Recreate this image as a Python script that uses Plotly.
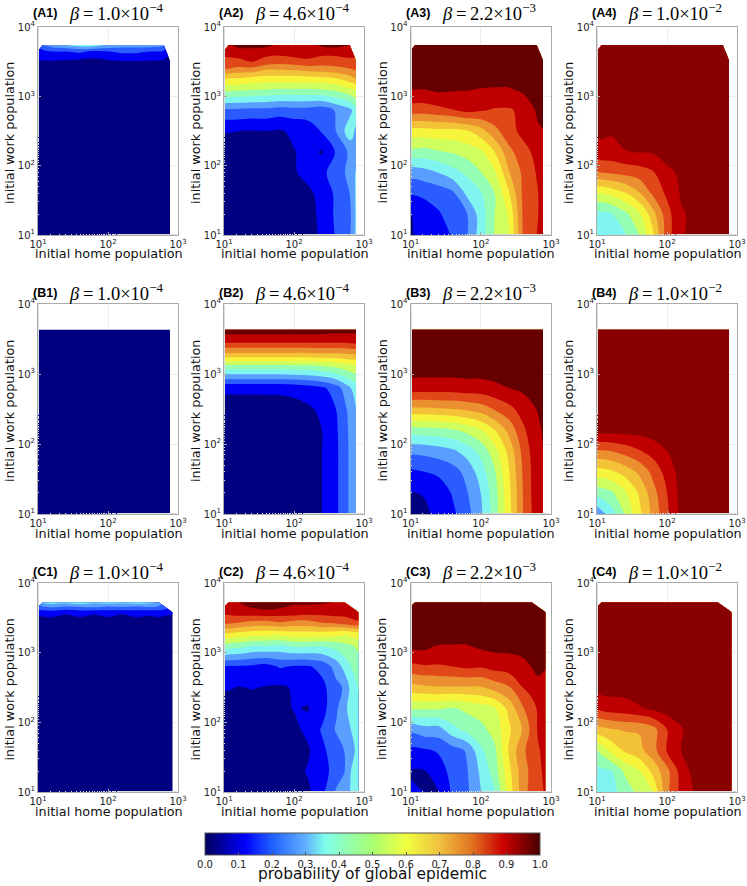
import numpy as np
import plotly.graph_objects as go

# grid positions (initial home population / initial work population)
xA = [10, 11.8, 15.8, 25, 40, 63, 100, 158, 251, 398, 622, 676, 770]
yA = [10, 20, 40, 79, 158, 316, 631, 1259, 1905, 2512, 3162, 4416, 5495]
xB = [10, 15.8, 25, 40, 63, 100, 158, 251, 398, 550, 770]
yB = [10, 20, 40, 79, 158, 316, 631, 1259, 1905, 2884, 4325]
xC = [10, 11.8, 15.8, 25, 40, 63, 100, 158, 251, 398, 518, 650, 840]
yC = [10, 20, 40, 79, 158, 316, 631, 1259, 1905, 2692, 3715, 4477, 5272]

# values, in units of one contour interval (0.08 probability); rows run bottom to top
N = None
A1 = [
 [.2,.2,.2,.2,.2,.2,.2,.2,.2,.2,.2,.2,.2],
 [.2,.2,.2,.2,.2,.2,.2,.2,.2,.2,.2,.2,.2],
 [.2,.2,.2,.2,.2,.2,.2,.2,.2,.2,.2,.2,.2],
 [.2,.2,.2,.2,.2,.2,.2,.2,.2,.2,.2,.2,.2],
 [.2,.2,.2,.2,.2,.2,.2,.2,.2,.2,.2,.2,.2],
 [.2,.2,.2,.2,.2,.2,.2,.2,.2,.2,.2,.2,.2],
 [.2,.2,.2,.2,.2,.2,.2,.2,.2,.2,.2,.2,.2],
 [.2,.2,.2,.2,.2,.2,.2,.2,.2,.2,.2,.2,.2],
 [.2,.2,.2,.2,.2,.2,.2,.2,.2,.2,.2,.2,.2],
 [.3,.3,.3,.3,.3,.3,.3,.3,.3,.3,.3,.3,.3],
 [.9,.9,.9,.8,.6,.6,.8,.9,.9,.9,.8,.7,.5],
 [1.5,1.7,2,2,2.2,1.8,2,2.2,2.2,2,1.8,1.5,N],
 [N,3,3.5,4,4.5,4.5,3.8,3.5,3.5,3.5,3.2,N,N],
]
A2 = [
 [.3,.3,.3,.3,.3,.3,.4,.6,1.2,2.1,2.9,3.2,4.2],
 [.3,.3,.3,.3,.3,.3,.4,.7,1.2,2.2,2.9,3.1,4.2],
 [.3,.3,.3,.3,.3,.3,.4,.8,1.3,2.2,3,3.3,4.2],
 [.4,.4,.4,.4,.5,.6,.9,1.3,1.7,2.6,3.2,3.6,4.1],
 [.5,.5,.5,.5,.6,.7,.95,1.3,.9,2.1,3.2,3.4,3.6],
 [1.05,1.05,1,.95,1,.9,1.2,1.4,2.1,3,4.6,4.4,3.7],
 [2.8,2.8,2.8,2.7,2.7,2.5,2.6,2.6,2.4,3.1,3.7,4,4.7],
 [6.3,6.3,6.2,6.1,6,5.9,5.9,5.9,6,6.2,6.8,6.9,7.2],
 [8.3,8.2,8.2,8,7.8,7.8,7.8,7.9,8,8.2,8.8,9,9.2],
 [10,10,9.8,9.8,9.2,9.2,9.3,9.5,9.6,9.8,10,10.1,10.2],
 [10.6,10.6,10.7,11,10.6,10.4,10.6,10.8,10.5,10.4,10.7,10.7,10.8],
 [11.5,11.5,11.6,11.7,11.4,11.4,11.5,11.5,11.4,11.5,11.5,11.5,N],
 [N,11.8,12.3,12.3,12.3,11.8,11.6,11.7,12.2,12.3,12,N,N],
]
A3 = [
 [.9,1.05,1.2,1.5,2.1,2.9,4.5,6.1,6.9,10.1,11,11.2,11.5],
 [.95,1.2,1.5,1.9,2.4,2.9,4.5,6,7.1,10.1,10.9,11.05,11.4],
 [2.1,2.1,2.2,2.4,2.8,4.2,4.9,6,7.9,10.2,10.9,11.05,11.3],
 [3.4,3.4,3.6,4,4.6,5.2,5.95,6.8,8.9,10.2,11.05,11.2,11.4],
 [5.7,5.7,5.6,5.9,6.1,6.4,6.8,8,9.7,10.6,11.3,11.4,11.5],
 [7.6,7.6,7.6,7.7,7.7,7.9,8.6,9.7,10.6,11.3,11.8,11.9,11.95],
 [10.5,10.5,10.5,10.7,10.95,11.3,11.1,10.9,10.9,11.2,12.1,12.2,12.4],
 [12,12,12,12.2,12.1,12.05,11.95,11.9,11.9,12.2,12.5,12.5,12.5],
 [12.5,12.5,12.5,12.5,12.5,12.5,12.5,12.5,12.5,12.5,12.5,12.5,12.5],
 [12.5,12.5,12.5,12.5,12.5,12.5,12.5,12.5,12.5,12.5,12.5,12.5,12.5],
 [12.5,12.5,12.5,12.5,12.5,12.5,12.5,12.5,12.5,12.5,12.5,12.5,12.5],
 [12.5,12.5,12.5,12.5,12.5,12.5,12.5,12.5,12.5,12.5,12.5,12.5,N],
 [N,12.5,12.5,12.5,12.5,12.5,12.5,12.5,12.5,12.5,12.5,N,N],
]
A4 = [
 [4.2,4.3,4.5,4.9,6,7.8,10.6,11.8,12.5,12.5,12.5,12.5,12.5],
 [4.6,4.7,4.9,5.7,6.8,8.6,10.6,11.9,12.2,12.5,12.5,12.5,12.5],
 [7,7,7.3,7.9,8.9,10.2,11.2,12.1,12.5,12.5,12.5,12.5,12.5],
 [9.9,10,10.1,10.3,10.5,10.9,11.7,12.2,12.5,12.5,12.5,12.5,12.5],
 [11.5,11.7,11.7,11.95,12.05,12.1,12.5,12.5,12.5,12.5,12.5,12.5,12.5],
 [12.3,12.2,12.1,12.4,12.5,12.5,12.5,12.5,12.5,12.5,12.5,12.5,12.5],
 [12.5,12.5,12.5,12.5,12.5,12.5,12.5,12.5,12.5,12.5,12.5,12.5,12.5],
 [12.5,12.5,12.5,12.5,12.5,12.5,12.5,12.5,12.5,12.5,12.5,12.5,12.5],
 [12.5,12.5,12.5,12.5,12.5,12.5,12.5,12.5,12.5,12.5,12.5,12.5,12.5],
 [12.5,12.5,12.5,12.5,12.5,12.5,12.5,12.5,12.5,12.5,12.5,12.5,12.5],
 [12.5,12.5,12.5,12.5,12.5,12.5,12.5,12.5,12.5,12.5,12.5,12.5,12.5],
 [12.5,12.5,12.5,12.5,12.5,12.5,12.5,12.5,12.5,12.5,12.5,12.5,N],
 [N,12.5,12.5,12.5,12.5,12.5,12.5,12.5,12.5,12.5,12.5,N,N],
]
B1 = [
 [.1,.1,.1,.1,.1,.1,.1,.1,.1,.2,.3],
 [.1,.1,.1,.1,.1,.1,.1,.1,.1,.2,.3],
 [.1,.1,.1,.1,.1,.1,.1,.1,.1,.2,.3],
 [.1,.1,.1,.1,.1,.1,.1,.1,.1,.2,.3],
 [.1,.1,.1,.1,.1,.1,.1,.1,.1,.2,.3],
 [.1,.1,.1,.1,.1,.1,.1,.1,.1,.2,.3],
 [.1,.1,.1,.1,.1,.1,.1,.1,.1,.2,.3],
 [.2,.2,.2,.2,.2,.2,.2,.2,.2,.2,.3],
 [.2,.2,.2,.2,.2,.2,.2,.2,.2,.3,.3],
 [.3,.3,.3,.3,.3,.3,.3,.3,.3,.3,.4],
 [.4,.4,.4,.4,.4,.4,.4,.4,.4,.4,.5],
]
B2 = [
 [.15,.2,.25,.33,.44,.58,.78,1,1.8,2.7,3.9],
 [.15,.2,.25,.33,.44,.58,.78,1,1.8,2.7,3.9],
 [.15,.2,.25,.33,.44,.58,.78,1,1.8,2.7,3.9],
 [.2,.22,.27,.34,.45,.59,.79,1,1.8,2.7,3.9],
 [.3,.31,.32,.37,.46,.6,.8,1,1.85,2.75,3.9],
 [.55,.55,.55,.58,.6,.65,.85,1.2,2,2.9,4],
 [1.2,1.2,1.2,1.2,1.2,1.3,1.5,1.8,2.5,3.5,4.5],
 [5.5,5.5,5.5,5.5,5.5,5.55,5.6,5.8,6.1,6.4,6.7],
 [8.7,8.7,8.7,8.7,8.7,8.7,8.7,8.8,8.8,8.9,9],
 [11.2,11.2,11.2,11.2,11.2,11.2,11.2,11.2,11.2,11.2,11.3],
 [12.5,12.5,12.5,12.5,12.5,12.5,12.5,12.5,12.4,12.4,12.3],
]
B3 = [
 [.6,.85,1.2,1.8,2.6,3.8,5.5,7.6,10,11.1,11.9],
 [.95,1.05,1.4,2.1,2.9,4,5.6,7.7,10,11.2,11.95],
 [1.8,2,2.2,2.6,3.3,4.5,5.9,7.9,10.1,11.2,12],
 [3.2,3.3,3.5,3.8,4.4,5.3,6.6,8.3,10.3,11.3,12],
 [5.5,5.6,5.7,5.9,6.3,6.9,8,9.3,10.8,11.5,12.1],
 [8.8,8.8,8.9,9,9.2,9.5,10.1,10.7,11.4,11.9,12.2],
 [11.5,11.5,11.5,11.5,11.6,11.6,11.8,12,12.2,12.3,12.5],
 [12.5,12.5,12.5,12.5,12.5,12.5,12.5,12.5,12.5,12.5,12.5],
 [12.5,12.5,12.5,12.5,12.5,12.5,12.5,12.5,12.5,12.5,12.5],
 [12.5,12.5,12.5,12.5,12.5,12.5,12.5,12.5,12.5,12.5,12.5],
 [12.5,12.5,12.5,12.5,12.5,12.5,12.5,12.5,12.5,12.5,12.5],
]
B4 = [
 [3.2,4.5,6.03,7.7,9.3,10.8,12.3,12.5,12.5,12.5,12.5],
 [5.35,5.8,6.8,8.1,9.6,11,12.35,12.5,12.5,12.5,12.5],
 [7.55,7.8,8.4,9.2,10.3,11.4,12.4,12.5,12.5,12.5,12.5],
 [9.85,10,10.4,10.9,11.4,12,12.5,12.5,12.5,12.5,12.5],
 [12.4,12.4,12.4,12.4,12.5,12.5,12.5,12.5,12.5,12.5,12.5],
 [12.5,12.5,12.5,12.5,12.5,12.5,12.5,12.5,12.5,12.5,12.5],
 [12.5,12.5,12.5,12.5,12.5,12.5,12.5,12.5,12.5,12.5,12.5],
 [12.5,12.5,12.5,12.5,12.5,12.5,12.5,12.5,12.5,12.5,12.5],
 [12.5,12.5,12.5,12.5,12.5,12.5,12.5,12.5,12.5,12.5,12.5],
 [12.5,12.5,12.5,12.5,12.5,12.5,12.5,12.5,12.5,12.5,12.5],
 [12.5,12.5,12.5,12.5,12.5,12.5,12.5,12.5,12.5,12.5,12.5],
]
C1 = [
 [.2,.2,.2,.2,.2,.2,.2,.2,.2,.2,.2,.2,.2],
 [.2,.2,.2,.2,.2,.2,.2,.2,.2,.2,.2,.2,.2],
 [.2,.2,.2,.2,.2,.2,.2,.2,.2,.2,.2,.2,.2],
 [.2,.2,.2,.2,.2,.2,.2,.2,.2,.2,.2,.2,.2],
 [.2,.2,.2,.2,.2,.2,.2,.2,.2,.2,.2,.2,.2],
 [.2,.2,.2,.2,.2,.2,.2,.2,.2,.2,.2,.2,.2],
 [.2,.2,.2,.2,.2,.2,.2,.2,.2,.2,.2,.2,.2],
 [.2,.2,.2,.2,.2,.2,.2,.2,.2,.2,.2,.2,.2],
 [.3,.3,.3,.3,.3,.3,.3,.3,.3,.3,.3,.3,.3],
 [.5,.5,.6,.5,.6,.5,.6,.4,.6,.5,.6,.5,.5],
 [1.2,1.3,1.3,1.1,1.3,1.1,1.3,1.1,1.3,1.2,1.3,1.2,1.1],
 [2.6,2.8,3,2.7,2.9,3,2.7,2.9,2.7,2.9,2.7,2.5,N],
 [N,4.2,4.5,4.3,4.6,4.2,4.5,4.2,4.5,4.2,4,N,N],
]
C2 = [
 [.3,.3,.3,.3,.3,.4,.5,.8,1.75,3.1,3.6,4.05,4.5],
 [.3,.3,.3,.3,.3,.4,.6,1.1,1.5,2.5,2.9,4,4.5],
 [.3,.3,.3,.3,.3,.4,.6,.85,1.8,2.5,3,3.7,4.3],
 [.3,.3,.3,.3,.4,.5,.7,1.3,2.1,3.1,3.6,4,4.5],
 [.4,.4,.4,.5,.5,.7,1.05,.95,1.6,2.8,3.7,4.4,5],
 [1.1,1.1,.95,1.05,.95,.85,1.1,1.3,1.7,2.7,3.1,4.3,5.1],
 [1.9,1.9,1.9,1.8,1.6,2.1,1.9,1.9,2.3,3.4,4.3,5,5.6],
 [5.6,5.5,5.4,5,5,4.8,5.2,5.2,5.1,5.4,5.7,5.9,6.2],
 [8,8,7.8,7.6,7.5,7.5,7.7,7.7,7.7,7.5,7.3,7.5,7.8],
 [10.2,10.2,10,9.7,9.6,9.9,9.6,9.6,10,10.2,10.5,10.7,10.9],
 [11.2,11.2,11.4,11.5,11.6,11.5,11.5,11.3,11.3,11.4,11.3,11.4,11.5],
 [11.7,11.7,11.8,12.05,12.3,12.1,11.8,11.8,11.8,11.8,11.7,11.8,N],
 [N,12,12,12.5,12.5,12.3,12.2,12.2,12.1,12,11.9,N,N],
]
C3 = [
 [1.1,1.05,1,.95,2.2,2.8,3.95,4.9,7.4,9.6,10.3,10.7,11.1],
 [.95,.9,.95,1.6,2.3,2.9,4.2,5.5,7.7,9.6,10.2,10.8,11.2],
 [1.8,1.8,1.9,2.1,2.6,3.1,4.8,5.8,8.1,9.8,10.4,10.9,11.3],
 [3.2,3.3,3.6,3.6,4.7,5.3,5.7,6.4,7.8,9.1,10.2,11.1,11.3],
 [6.1,6.1,6.1,6.1,5.9,6.2,6.5,6.9,8.3,9.9,10.6,11.1,11.4],
 [8.6,8.7,8.8,8.9,8.9,8.9,8.9,9.4,9.9,11,11.3,11.5,11.7],
 [10.7,10.8,10.9,10.9,11,11.2,11.1,11.4,11.5,11.7,12,12.4,12.05],
 [12.3,12.3,12.3,11.95,11.95,11.95,12.2,12.3,12.3,12.4,12.5,12.5,12.5],
 [12.5,12.5,12.5,12.5,12.5,12.5,12.5,12.5,12.5,12.5,12.5,12.5,12.5],
 [12.5,12.5,12.5,12.5,12.5,12.5,12.5,12.5,12.5,12.5,12.5,12.5,12.5],
 [12.5,12.5,12.5,12.5,12.5,12.5,12.5,12.5,12.5,12.5,12.5,12.5,12.5],
 [12.5,12.5,12.5,12.5,12.5,12.5,12.5,12.5,12.5,12.5,12.5,12.5,N],
 [N,12.5,12.5,12.5,12.5,12.5,12.5,12.5,12.5,12.5,12.5,N,N],
]
C4 = [
 [4.3,4.4,4.7,5.4,6.3,7,9.8,11.3,12.1,12.5,12.5,12.5,12.5],
 [4.7,4.8,4.9,6.2,6.95,8.3,9.7,11.4,12.4,12.5,12.5,12.5,12.5],
 [6,6.4,7.3,8.2,8.7,9.6,11.1,12,12.5,12.5,12.5,12.5,12.5],
 [8.6,8.7,8.9,9.1,9.1,9.6,11,11.9,12.5,12.5,12.5,12.5,12.5],
 [11.1,11.3,11.5,11.6,11.9,12.2,12.5,12.5,12.5,12.5,12.5,12.5,12.5],
 [12.4,12.4,12.4,12.4,12.5,12.5,12.5,12.5,12.5,12.5,12.5,12.5,12.5],
 [12.5,12.5,12.5,12.5,12.5,12.5,12.5,12.5,12.5,12.5,12.5,12.5,12.5],
 [12.5,12.5,12.5,12.5,12.5,12.5,12.5,12.5,12.5,12.5,12.5,12.5,12.5],
 [12.5,12.5,12.5,12.5,12.5,12.5,12.5,12.5,12.5,12.5,12.5,12.5,12.5],
 [12.5,12.5,12.5,12.5,12.5,12.5,12.5,12.5,12.5,12.5,12.5,12.5,12.5],
 [12.5,12.5,12.5,12.5,12.5,12.5,12.5,12.5,12.5,12.5,12.5,12.5,12.5],
 [12.5,12.5,12.5,12.5,12.5,12.5,12.5,12.5,12.5,12.5,12.5,12.5,N],
 [N,12.5,12.5,12.5,12.5,12.5,12.5,12.5,12.5,12.5,12.5,N,N],
]

betas = ["1.0\u00d710<sup>\u22124</sup>", "4.6\u00d710<sup>\u22124</sup>",
         "2.2\u00d710<sup>\u22123</sup>", "1.0\u00d710<sup>\u22122</sup>"]
rows = ["A", "B", "C"]
tick_vals = [10, 100, 1000, 10000]
tick_text = ["10<sup>1</sup>", "10<sup>2</sup>", "10<sup>3</sup>", "10<sup>4</sup>"]
cbar_ticks = [0.0, 0.1, 0.2, 0.3, 0.4, 0.5, 0.6, 0.7, 0.8, 0.9, 1.0]

LEVEL = 0.08
BAND = ["#000080", "#0000f5", "#2a5cff", "#5a9eff", "#80f5f0", "#94ffb4", "#ceff5e",
        "#f7f43c", "#f3c236", "#ea9030", "#e0481a", "#c00000", "#660000"]
CBAR = [[0, "#00005a"], [.12, "#0000ff"], [.2, "#2060ff"], [.3, "#60b0ff"], [.36, "#80ffea"],
        [.5, "#a8ff70"], [.6, "#f0ff40"], [.7, "#f0c040"], [.8, "#e07020"], [.89, "#cc0000"], [1, "#480000"]]

W, H = 747, 886
col_px = [(38, 178), (224, 364), (410.5, 551), (597, 737)]
row_px = [(27, 235), (304, 514), (583, 792)]
title_y = [13, 293, 572]
grids = {"A": (xA, yA, [A1, A2, A3, A4]), "B": (xB, yB, [B1, B2, B3, B4]), "C": (xC, yC, [C1, C2, C3, C4])}

fig = go.Figure()
anns = []
GREY = "#aaaaaa"
for r, rn in enumerate(rows):
    xs, ys, zs = grids[rn]
    for c in range(4):
        n = r * 4 + c + 1
        sfx = "" if n == 1 else str(n)
        top = "#880000" if c == 3 else BAND[12]
        colors = BAND[:12] + [top]
        scale = [[i / 12, col] for i, col in enumerate(colors)]
        fig.add_trace(go.Contour(
            x=xs, y=ys, z=(np.array(zs[c], dtype=float) * LEVEL).tolist(),
            xaxis="x" + sfx, yaxis="y" + sfx, autocontour=False,
            contours=dict(start=LEVEL, end=12 * LEVEL, size=LEVEL, coloring="fill", showlines=False),
            line=dict(width=0, smoothing=1), colorscale=scale, showscale=False, hoverinfo="skip"))
        axx = dict(type="log", range=[1, 3], domain=[col_px[c][0] / W, col_px[c][1] / W],
                   anchor="y" + sfx, showline=True, mirror=True, linecolor=GREY, linewidth=1,
                   showgrid=True, gridcolor="#ececec", zeroline=False, automargin=False,
                   tickvals=tick_vals[:3], ticktext=tick_text[:3], ticks="inside", ticklen=3, tickcolor=GREY,
                   tickfont=dict(family="DejaVu Sans", size=10, color="#222"),
                   minor=dict(ticks="inside", ticklen=1, tickcolor="#dddddd", showgrid=False))
        axy = dict(type="log", range=[1, 4], domain=[1 - row_px[r][1] / H, 1 - row_px[r][0] / H],
                   anchor="x" + sfx, showline=True, mirror=True, linecolor=GREY, linewidth=1,
                   showgrid=True, gridcolor="#ececec", zeroline=False, automargin=False,
                   tickvals=tick_vals, ticktext=tick_text, ticks="inside", ticklen=3, tickcolor=GREY,
                   tickfont=dict(family="DejaVu Sans", size=10, color="#222"),
                   minor=dict(ticks="inside", ticklen=1, tickcolor="#dddddd", showgrid=False))
        fig.update_layout({"xaxis" + sfx: axx, "yaxis" + sfx: axy})
        cx = sum(col_px[c]) / 2
        cy = sum(row_px[r]) / 2
        anns.append(dict(x=(cx + 0.5) / W, y=1 - (row_px[r][1] + 19) / H, xref="paper", yref="paper",
                         text="initial home population", showarrow=False, xanchor="center", yanchor="middle",
                         font=dict(family="DejaVu Sans", size=12.8, color="#111")))
        anns.append(dict(x=(col_px[c][0] - 29) / W, y=1 - (cy + 2) / H, xref="paper", yref="paper",
                         text="initial work population", textangle=-90, showarrow=False,
                         xanchor="center", yanchor="middle",
                         font=dict(family="DejaVu Sans", size=12.8, color="#111")))
        anns.append(dict(x=(col_px[c][0] - 7) / W, y=1 - title_y[r] / H, xref="paper", yref="paper",
                         text="<b>(%s%d)</b>" % (rn, c + 1), showarrow=False, xanchor="left", yanchor="middle",
                         font=dict(family="Liberation Sans", size=12.5, color="#000")))
        anns.append(dict(x=(col_px[c][0] + 29) / W, y=1 - (title_y[r] - 1) / H, xref="paper", yref="paper",
                         text="<i>\u03b2</i>\u2009=\u2009" + betas[c], showarrow=False, xanchor="left", yanchor="middle",
                         font=dict(family="Liberation Serif", size=18.5, color="#000")))

anns.append(dict(x=372.5 / W, y=1 - 874 / H, xref="paper", yref="paper", text="probability of global epidemic",
                 showarrow=False, xanchor="center", yanchor="middle",
                 font=dict(family="DejaVu Sans", size=15.4, color="#111")))

fig.add_trace(go.Scatter(
    x=[100], y=[100], mode="markers", hoverinfo="skip", showlegend=False,
    marker=dict(size=1, opacity=0, color=[0.5], cmin=0, cmax=1, colorscale=CBAR, showscale=True,
                colorbar=dict(orientation="h", x=372.5 / W, xanchor="center", y=1 - 833 / H, yanchor="top",
                              len=335, lenmode="pixels", thickness=22, thicknessmode="pixels",
                              outlinewidth=1, outlinecolor="#555", xpad=0, ypad=0,
                              tickvals=cbar_ticks, ticktext=["%.1f" % t for t in cbar_ticks],
                              ticks="inside", ticklen=3, tickcolor="#555",
                              tickfont=dict(family="DejaVu Sans", size=10, color="#222")))))

fig.update_layout(width=W, height=H, margin=dict(l=0, r=0, t=0, b=0, autoexpand=False), paper_bgcolor="white",
                  plot_bgcolor="white", showlegend=False, annotations=anns)
fig.write_html("out.html", post_script="document.body.style.margin='0';", config=dict(displayModeBar=False))
